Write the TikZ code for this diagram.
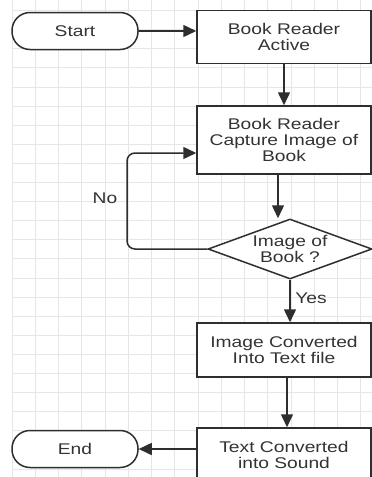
\documentclass[tikz,border=0pt]{standalone}
\usepackage{fontspec}
\usetikzlibrary{arrows.meta, positioning, shapes.geometric}
\newfontfamily\chartfont[FakeStretch=1.24]{Liberation Sans}
\definecolor{fcline}{HTML}{2E2E2E}
\definecolor{fctext}{HTML}{333333}
\definecolor{fcgrid}{HTML}{E6E6E6}

\begin{document}
\begin{tikzpicture}[
  x=1pt, y=-1pt,
  every node/.style={font=\chartfont\fontsize{15.5}{16}\selectfont, text=fctext},
  termnode/.style={rectangle, rounded corners=18pt, draw=fcline, fill=white, line width=1.5pt, minimum width=126pt, minimum height=37pt},
  procnode/.style={rectangle, draw=fcline, fill=white, line width=1.5pt, minimum width=174pt, align=center},
  decnode/.style={diamond, draw=fcline, fill=white, line width=1.5pt, minimum width=164pt, minimum height=60pt, aspect=2.7, inner sep=0pt, align=center},
  flow/.style={-{Triangle[length=13pt,width=12pt]}, draw=fcline, line width=1.5pt},
  gridline/.style={draw=fcgrid, line width=0.8pt},
]
\useasboundingbox (0,0) rectangle (372,477);
\clip (0,0) rectangle (372,477);
\fill[white] (0,0) rectangle (372,477);

% background grid
\foreach \gx in {0,...,15}
  \draw[gridline] (12+23.25*\gx, 0) -- ++(0,477);
\foreach \gy in {0,...,24}
  \draw[gridline] (12, 10.5+19.1*\gy) -- ++(360,0);

\node[termnode] (start) at (75, 31) {Start};
\node[procnode, minimum height=53pt] (active) at (284, 37) {Book Reader\\Active};
\node[procnode, minimum height=68pt] (capture) at (284, 140) {Book Reader\\Capture Image of\\Book};
\node[decnode] (check) at (290, 249) {Image of\\Book ?};
\node[procnode, minimum height=54pt] (convert) at (284, 350) {Image Converted\\Into Text file};
\node[procnode, minimum height=54pt] (sound) at (284, 455) {Text Converted\\into Sound};
\node[termnode] (end) at (75, 449) {End};

\coordinate (noturn) at (127, 153);
\node (nolabel) at (105, 198) {No};
\node (yeslabel) at (311, 298) {Yes};

\draw[flow] (start.east) -- (start.east -| active.west);
\draw[flow] (active) -- (capture);
\draw[flow] ([xshift=-6pt]capture.south) -- ([xshift=-12pt]check.north);
\draw[flow, rounded corners=8pt] (check.west) -| (noturn) -- (noturn -| capture.west);
\draw[flow] (check.south) -- (check.south |- convert.north);
\draw[flow] ([xshift=3pt]convert.south) -- ([xshift=3pt]sound.north);
\draw[flow] (sound.west |- end.east) -- (end.east);
\end{tikzpicture}
\end{document}
